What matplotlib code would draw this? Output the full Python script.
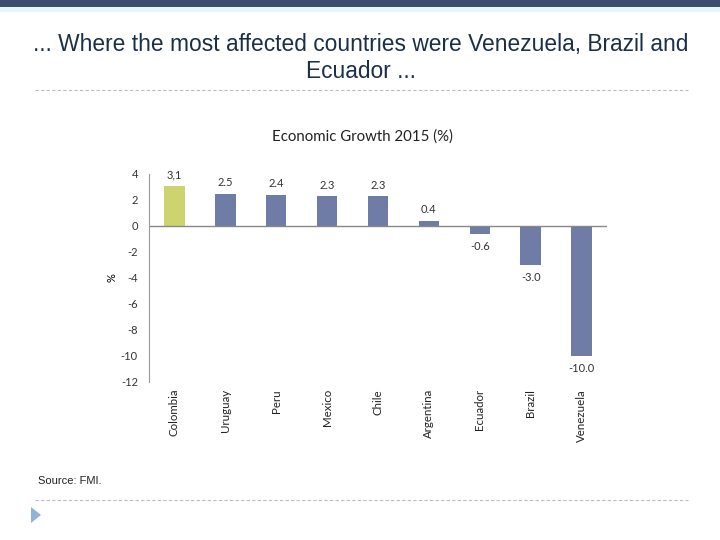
import matplotlib.pyplot as plt
from matplotlib.patches import Polygon, Rectangle

countries = ["Colombia", "Uruguay", "Peru", "Mexico", "Chile",
             "Argentina", "Ecuador", "Brazil", "Venezuela"]
growth = [3.1, 2.5, 2.4, 2.3, 2.3, 0.4, -0.6, -3.0, -10.0]
value_labels = ["3,1", "2.5", "2.4", "2.3", "2.3", "0.4", "-0.6", "-3.0", "-10.0"]
yticks = [4, 2, 0, -2, -4, -6, -8, -10, -12]

W, H = 720, 540
fig = plt.figure(figsize=(7.2, 5.4), dpi=100)
fig.patch.set_facecolor("white")

# slide decoration
fig.add_artist(Rectangle((0, 1 - 7 / H), 1, 7 / H, transform=fig.transFigure,
                         color="#3d4b6c", lw=0))
fig.add_artist(Rectangle((0, 1 - 12 / H), 1, 5 / H, transform=fig.transFigure,
                         color="#e6f7fc", lw=0))
fig.text(361 / W, 1 - 45 / H, "... Where the most affected countries were Venezuela, Brazil and",
         ha="center", va="center", fontsize=16.4, color="#1c2f48", family="Liberation Sans")
fig.text(361 / W, 1 - 72 / H, "Ecuador ...", ha="center", va="center",
         fontsize=16.4, color="#1c2f48", family="Liberation Sans")
for yy in (90, 500):
    fig.add_artist(plt.Line2D([35 / W, 688 / W], [1 - yy / H, 1 - yy / H],
                              transform=fig.transFigure, color="#b8bcc4",
                              lw=0.8, ls=(0, (3, 2))))
fig.text(38 / W, 1 - 481 / H, "Source: FMI.", ha="left", va="center",
         fontsize=8, color="#222222", family="Liberation Sans")
fig.add_artist(Polygon([(31 / W, 1 - 507 / H), (31 / W, 1 - 523 / H), (41 / W, 1 - 515 / H)],
                       closed=True, transform=fig.transFigure, color="#8fb3d9", lw=0))

fig.text(362 / W, 1 - 137 / H, "Economic Growth 2015 (%)", ha="center", va="center",
         fontsize=10.8, color="#222222", family="Lato")

# chart
ax = fig.add_axes([149 / W, 1 - 382 / H, 458 / W, 208 / H])
x = range(len(countries))
colors = ["#cdd36e"] + ["#6f7ca5"] * (len(countries) - 1)
ax.bar(x, growth, width=0.4, color=colors)
ax.axhline(0, color="#888888", lw=1)
ax.set_xlim(-0.5, len(countries) - 0.5)
ax.set_ylim(-12, 4)
ax.set_yticks(yticks)
ax.set_yticklabels([str(t) for t in yticks], fontsize=8, family="Lato", color="#333333")
ax.set_xticks([])
for s in ("top", "right", "bottom"):
    ax.spines[s].set_visible(False)
ax.spines["left"].set_color("#999999")
ax.tick_params(axis="y", length=0, pad=8)
ax.set_ylabel("%", fontsize=8, family="Lato", labelpad=2)

for i, (v, lab) in enumerate(zip(growth, value_labels)):
    if v >= 0:
        ax.annotate(lab, (i, v), xytext=(0, 4), textcoords="offset points",
                    ha="center", va="bottom", fontsize=8, family="Lato", color="#333333")
    else:
        ax.annotate(lab, (i, v), xytext=(0, -5), textcoords="offset points",
                    ha="center", va="top", fontsize=8, family="Lato", color="#333333")
    ax.annotate(countries[i], (i, -12), xytext=(0, -5), textcoords="offset points",
                ha="center", va="top", rotation=90, fontsize=8.3, family="Lato",
                color="#222222")

fig.savefig("out.png", dpi=100)
